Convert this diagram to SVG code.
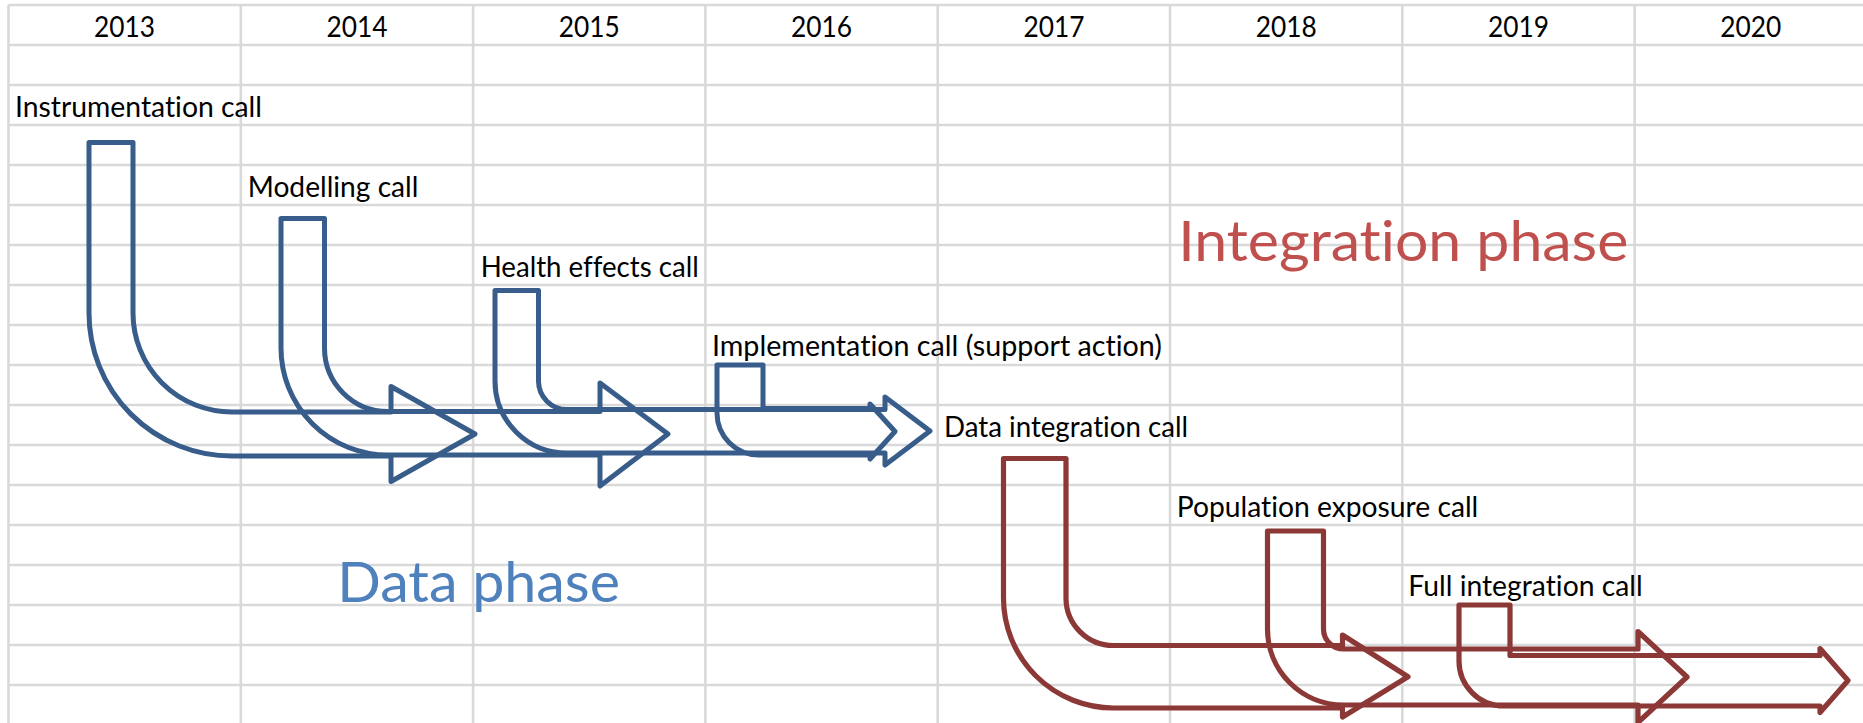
<svg xmlns="http://www.w3.org/2000/svg" width="1863" height="723" viewBox="0 0 1863 723">
<defs>
<style>
text{font-variant-ligatures:none;font-feature-settings:"liga" 0,"clig" 0}
.grid line{stroke:#d9d9d9;stroke-width:2.6}
.yr{font-family:Lato,"Open Sans",sans-serif;font-size:28px;fill:#000;text-anchor:middle}
.lbl{font-family:Lato,"Open Sans",sans-serif;font-size:28px;fill:#000}
.blue{fill:none;stroke:#385D8A;stroke-width:5;stroke-linejoin:round}
.red{fill:none;stroke:#8C3836;stroke-width:5.2;stroke-linejoin:round}
.phase{font-family:Lato,"Open Sans",sans-serif;font-size:57px}
</style>
</defs>
<rect width="1863" height="723" fill="#fff"/>
<g id="grid" class="grid">
<line x1="8.5" y1="5" x2="1863" y2="5"/>
<line x1="8.5" y1="45" x2="1863" y2="45"/>
<line x1="8.5" y1="85" x2="1863" y2="85"/>
<line x1="8.5" y1="125" x2="1863" y2="125"/>
<line x1="8.5" y1="165" x2="1863" y2="165"/>
<line x1="8.5" y1="205" x2="1863" y2="205"/>
<line x1="8.5" y1="245" x2="1863" y2="245"/>
<line x1="8.5" y1="285" x2="1863" y2="285"/>
<line x1="8.5" y1="325" x2="1863" y2="325"/>
<line x1="8.5" y1="365" x2="1863" y2="365"/>
<line x1="8.5" y1="405" x2="1863" y2="405"/>
<line x1="8.5" y1="445" x2="1863" y2="445"/>
<line x1="8.5" y1="485" x2="1863" y2="485"/>
<line x1="8.5" y1="525" x2="1863" y2="525"/>
<line x1="8.5" y1="565" x2="1863" y2="565"/>
<line x1="8.5" y1="605" x2="1863" y2="605"/>
<line x1="8.5" y1="645" x2="1863" y2="645"/>
<line x1="8.5" y1="685" x2="1863" y2="685"/>
<line x1="8.5" y1="5" x2="8.5" y2="723"/>
<line x1="240.8" y1="5" x2="240.8" y2="723"/>
<line x1="473.1" y1="5" x2="473.1" y2="723"/>
<line x1="705.4" y1="5" x2="705.4" y2="723"/>
<line x1="937.7" y1="5" x2="937.7" y2="723"/>
<line x1="1170" y1="5" x2="1170" y2="723"/>
<line x1="1402.3" y1="5" x2="1402.3" y2="723"/>
<line x1="1634.6" y1="5" x2="1634.6" y2="723"/>
</g>
<g id="years">
<text class="yr" x="124.6" y="36.5" textLength="61" lengthAdjust="spacingAndGlyphs">2013</text>
<text class="yr" x="357" y="36.5" textLength="61" lengthAdjust="spacingAndGlyphs">2014</text>
<text class="yr" x="589.3" y="36.5" textLength="61" lengthAdjust="spacingAndGlyphs">2015</text>
<text class="yr" x="821.5" y="36.5" textLength="61" lengthAdjust="spacingAndGlyphs">2016</text>
<text class="yr" x="1053.9" y="36.5" textLength="61" lengthAdjust="spacingAndGlyphs">2017</text>
<text class="yr" x="1286.2" y="36.5" textLength="61" lengthAdjust="spacingAndGlyphs">2018</text>
<text class="yr" x="1518.5" y="36.5" textLength="61" lengthAdjust="spacingAndGlyphs">2019</text>
<text class="yr" x="1750.8" y="36.5" textLength="61" lengthAdjust="spacingAndGlyphs">2020</text>
</g>
<g id="connectors">
<path id="arrow-instrumentation" class="blue" d="M89,142.5 H133 V313 A99,99 0 0 0 232,412 H391 V386.5 L475,434 L391,481.5 V456 H232 A143,143 0 0 1 89,313 Z"/>
<path id="arrow-modelling" class="blue" d="M281,218.5 H324.5 V348 A63.5,63.5 0 0 0 388,411.5 H600 V383 L668,434 L600,486 V455 H388 A107,107 0 0 1 281,348 Z"/>
<path id="arrow-health" class="blue" d="M495,290.5 H538.5 V381 A28.5,28.5 0 0 0 567,409.5 H885 V397 L930,431 L885,465 V453 H567 A72,72 0 0 1 495,381 Z"/>
<path id="arrow-implementation" class="blue" d="M717,365 H763 V408.5 H870 V404 L895,431.5 L870,459 V455 H759 A42,42 0 0 1 717,413 Z"/>
<path id="arrow-data-integration" class="red" d="M1003.5,458.5 H1066 V598 A47.5,47.5 0 0 0 1113.5,645.5 H1342.5 V635 L1408,676.75 L1342.5,717 V708 H1113.5 A110,110 0 0 1 1003.5,598 Z"/>
<path id="arrow-population" class="red" d="M1267.5,531 H1323.5 V629 A20,20 0 0 0 1343.5,649 H1638 V631.5 L1687,677 L1638,722.5 V705 H1343.5 A76,76 0 0 1 1267.5,629 Z"/>
<path id="arrow-full" class="red" d="M1459,605 H1510 V655.5 H1820 V648.5 L1848,680.5 L1820,712.5 V706 H1504 A45,45 0 0 1 1459,661 Z"/>
</g>
<g id="node-instrumentation"><text class="lbl" x="15" y="116.5" textLength="247" lengthAdjust="spacingAndGlyphs">Instrumentation call</text></g>
<g id="node-modelling"><text class="lbl" x="247.7" y="196.8" textLength="170.7" lengthAdjust="spacingAndGlyphs">Modelling call</text></g>
<g id="node-health"><text class="lbl" x="480.7" y="276.7" textLength="218" lengthAdjust="spacingAndGlyphs">Health effects call</text></g>
<g id="node-implementation"><text class="lbl" x="712" y="356.3" textLength="450" lengthAdjust="spacingAndGlyphs">Implementation call (support action)</text></g>
<g id="node-data-integration"><text class="lbl" x="944" y="436.7" textLength="244" lengthAdjust="spacingAndGlyphs">Data integration call</text></g>
<g id="node-population"><text class="lbl" x="1176.7" y="516.7" textLength="301.6" lengthAdjust="spacingAndGlyphs">Population exposure call</text></g>
<g id="node-full"><text class="lbl" x="1408.3" y="596.3" textLength="234.4" lengthAdjust="spacingAndGlyphs">Full integration call</text></g>
<g id="phase-data"><text class="phase" x="337.3" y="601.5" fill="#4F81BD" textLength="282.7" lengthAdjust="spacingAndGlyphs">Data phase</text></g>
<g id="phase-integration"><text class="phase" x="1178.3" y="260.6" fill="#C0504D" textLength="450" lengthAdjust="spacingAndGlyphs">Integration phase</text></g>
</svg>
